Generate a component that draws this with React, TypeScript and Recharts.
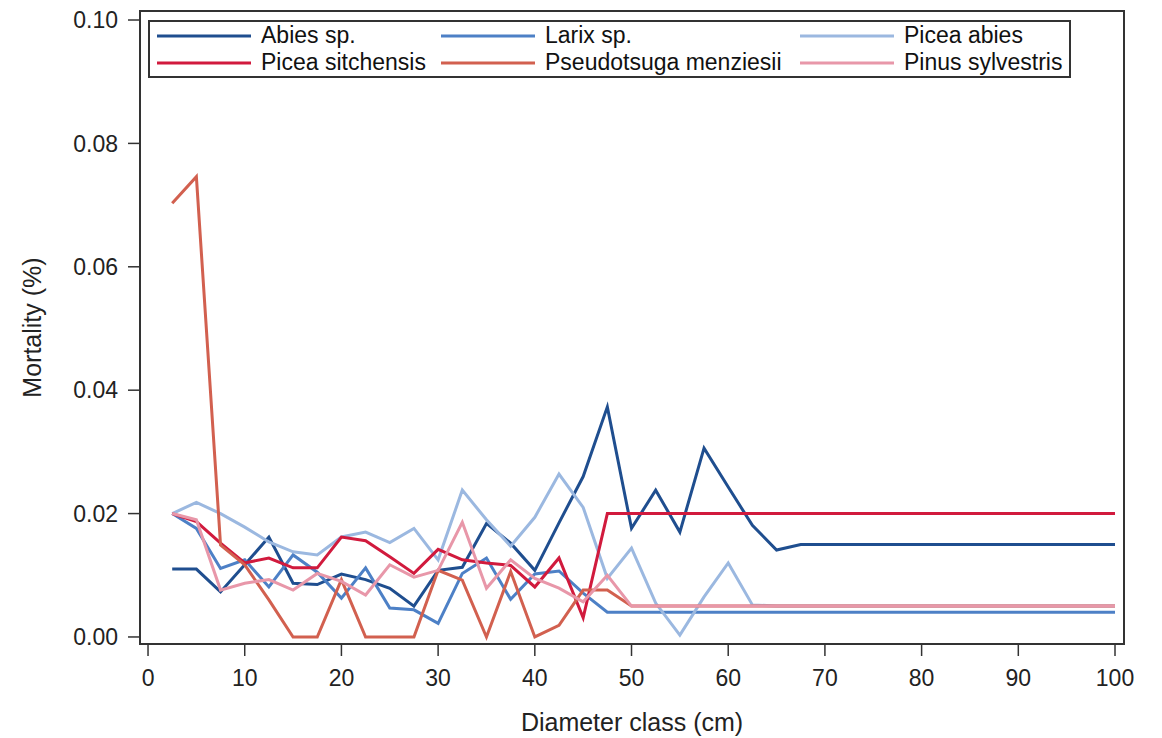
import React from 'react';
import { LineChart, Line, XAxis, YAxis, ReferenceArea, Legend, Label } from 'recharts';

// diameter classes (cm)
const diameterClass = [
  2.5, 5, 7.5, 10, 12.5, 15, 17.5, 20, 22.5, 25, 27.5, 30, 32.5, 35, 37.5, 40, 42.5, 45, 47.5, 50,
  52.5, 55, 57.5, 60, 62.5, 65, 67.5, 70, 72.5, 75, 77.5, 80, 82.5, 85, 87.5, 90, 92.5, 95, 97.5, 100,
];

// mortality, one value per diameter class
const abies = [
  0.011, 0.011, 0.0073, 0.0117, 0.0162, 0.0087, 0.0085, 0.0102, 0.0093, 0.0079, 0.005, 0.0108, 0.0113,
  0.0184, 0.0152, 0.0108, 0.0185, 0.026, 0.0373, 0.0176, 0.0238, 0.017, 0.0306, 0.0243, 0.0181, 0.0141,
  0.015, 0.015, 0.015, 0.015, 0.015, 0.015, 0.015, 0.015, 0.015, 0.015, 0.015, 0.015, 0.015, 0.015,
];
const larix = [
  0.02, 0.0176, 0.0111, 0.0125, 0.0081, 0.0133, 0.0105, 0.0063, 0.0112, 0.0047, 0.0044, 0.0022, 0.0103,
  0.0128, 0.0061, 0.0102, 0.0107, 0.0071, 0.004, 0.004, 0.004, 0.004, 0.004, 0.004, 0.004, 0.004, 0.004,
  0.004, 0.004, 0.004, 0.004, 0.004, 0.004, 0.004, 0.004, 0.004, 0.004, 0.004, 0.004, 0.004,
];
const piceaAbies = [
  0.02, 0.0218, 0.02, 0.0178, 0.0154, 0.0138, 0.0133, 0.0162, 0.017, 0.0153, 0.0176, 0.0125, 0.0238,
  0.019, 0.0147, 0.0194, 0.0264, 0.021, 0.0095, 0.0144, 0.0055, 0.0003, 0.0065, 0.012, 0.0052, 0.005,
  0.005, 0.005, 0.005, 0.005, 0.005, 0.005, 0.005, 0.005, 0.005, 0.005, 0.005, 0.005, 0.005, 0.005,
];
const piceaSitchensis = [
  0.02, 0.0187, 0.0152, 0.012, 0.0128, 0.0112, 0.0112, 0.0162, 0.0156, 0.013, 0.0103, 0.0142, 0.0125,
  0.012, 0.0116, 0.0081, 0.0128, 0.0031, 0.02, 0.02, 0.02, 0.02, 0.02, 0.02, 0.02, 0.02, 0.02, 0.02,
  0.02, 0.02, 0.02, 0.02, 0.02, 0.02, 0.02, 0.02, 0.02, 0.02, 0.02, 0.02,
];
const pseudotsuga = [
  0.0703, 0.0746, 0.0149, 0.0117, 0.006, 0.0, 0.0, 0.0093, 0.0, 0.0, 0.0, 0.0108, 0.0092, 0.0, 0.0106,
  0.0, 0.0019, 0.0076, 0.0076, 0.005, 0.005, 0.005, 0.005, 0.005, 0.005, 0.005, 0.005, 0.005, 0.005,
  0.005, 0.005, 0.005, 0.005, 0.005, 0.005, 0.005, 0.005, 0.005, 0.005, 0.005,
];
const pinus = [
  0.02, 0.019, 0.0076, 0.0087, 0.0093, 0.0076, 0.0103, 0.009, 0.0068, 0.0117, 0.0097, 0.0108, 0.0186,
  0.0079, 0.0125, 0.0095, 0.0079, 0.0057, 0.01, 0.005, 0.005, 0.005, 0.005, 0.005, 0.005, 0.005, 0.005,
  0.005, 0.005, 0.005, 0.005, 0.005, 0.005, 0.005, 0.005, 0.005, 0.005, 0.005, 0.005, 0.005,
];

const xTicks = [0, 10, 20, 30, 40, 50, 60, 70, 80, 90, 100];
const yTicks = [0, 0.02, 0.04, 0.06, 0.08, 0.1];

const series = [
  { key: 'abies', name: 'Abies sp.', color: '#1f4e8f', values: abies },
  { key: 'larix', name: 'Larix sp.', color: '#4d80c6', values: larix },
  { key: 'piceaAbies', name: 'Picea abies', color: '#9bb8e0', values: piceaAbies },
  { key: 'piceaSitchensis', name: 'Picea sitchensis', color: '#d11a3d', values: piceaSitchensis },
  { key: 'pseudotsuga', name: 'Pseudotsuga menziesii', color: '#d2604f', values: pseudotsuga },
  { key: 'pinus', name: 'Pinus sylvestris', color: '#e897a9', values: pinus },
];

const data = diameterClass.map((d, i) => {
  const row: Record<string, number> = { d };
  series.forEach((s) => {
    row[s.key] = s.values[i];
  });
  return row;
});

// SAS style offset around the data area
const xDomain = [-0.83, 100.93];
const yDomain = [-0.00114, 0.10146];

const font = '"Liberation Sans", Arial, sans-serif';
const colWidths = [284, 359, 269];

function renderLegend() {
  return (
    <div
      style={{
        boxSizing: 'border-box',
        width: 923,
        height: 58,
        border: '2px solid #333',
        background: '#fff',
        paddingLeft: 7,
        display: 'grid',
        gridTemplateColumns: colWidths.map((w) => w + 'px').join(' '),
        gridAutoRows: '27px',
        fontFamily: font,
        fontSize: 23,
        color: '#111',
      }}
    >
      {series.map((s) => (
        <div key={s.key} style={{ display: 'flex', alignItems: 'center', whiteSpace: 'nowrap' }}>
          <svg width={94} height={6} style={{ marginRight: 10, flexShrink: 0 }}>
            <line x1={0} y1={3} x2={94} y2={3} stroke={s.color} strokeWidth={3} />
          </svg>
          <span>{s.name}</span>
        </div>
      ))}
    </div>
  );
}

export default function App() {
  return (
    <div style={{ position: 'absolute', left: 0, top: 0, width: 1162, height: 738, background: '#fff' }}>
      <LineChart width={1162} height={738} data={data} margin={{ top: 11, right: 38, bottom: 0, left: 0 }}>
        <XAxis
          dataKey="d"
          type="number"
          domain={xDomain}
          allowDataOverflow
          ticks={xTicks}
          interval={0}
          height={94}
          axisLine={false}
          tickLine={{ stroke: '#333', strokeWidth: 1.5 }}
          tickSize={12}
          tickMargin={14}
          tick={{ fontSize: 23, fill: '#222', fontFamily: font }}
        >
          <Label
            value="Diameter class (cm)"
            position="insideBottom"
            offset={7}
            style={{ fontSize: 25, fill: '#222', fontFamily: font }}
          />
        </XAxis>
        <YAxis
          type="number"
          domain={yDomain}
          allowDataOverflow
          ticks={yTicks}
          interval={0}
          width={140}
          axisLine={false}
          tickLine={{ stroke: '#333', strokeWidth: 1.5 }}
          tickSize={12}
          tickMargin={10}
          tickFormatter={(v: number) => v.toFixed(2)}
          tick={{ fontSize: 23, fill: '#222', fontFamily: font }}
        >
          <Label
            value="Mortality (%)"
            position="insideLeft"
            angle={-90}
            offset={32}
            textAnchor="middle"
            style={{ fontSize: 25, fill: '#222', fontFamily: font, textAnchor: 'middle' }}
          />
        </YAxis>
        {series.map((s) => (
          <Line
            key={s.key}
            dataKey={s.key}
            name={s.name}
            type="linear"
            stroke={s.color}
            strokeWidth={3}
            dot={false}
            activeDot={false}
            isAnimationActive={false}
          />
        ))}
        <ReferenceArea
          x1={xDomain[0]}
          x2={xDomain[1]}
          y1={yDomain[0]}
          y2={yDomain[1]}
          fill="none"
          stroke="#333"
          strokeWidth={2}
          ifOverflow="visible"
        />
        <Legend
          layout="horizontal"
          verticalAlign="middle"
          align="center"
          content={renderLegend}
          wrapperStyle={{ position: 'absolute', top: 20, left: 148, width: 923, height: 58 }}
        />
      </LineChart>
    </div>
  );
}
